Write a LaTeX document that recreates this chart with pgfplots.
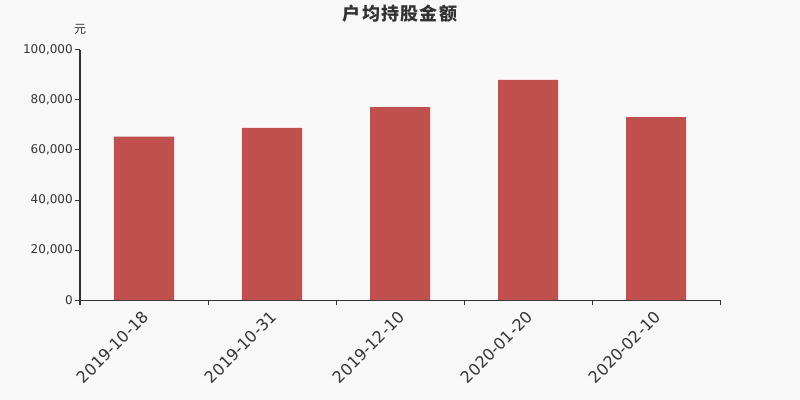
\documentclass[border=0pt]{standalone}
\usepackage{fontspec}
\setmainfont{DejaVu Sans}
\newfontfamily\cjk{Noto Sans CJK SC}
\usepackage{pgfplots}
\pgfplotsset{compat=1.18}
\definecolor{bg}{HTML}{F8F8F8}
\definecolor{barc}{HTML}{C0504D}
\definecolor{txt}{HTML}{333333}
\begin{document}
\begin{tikzpicture}[x=1pt,y=1pt]
\path[use as bounding box,fill=bg] (0,0) rectangle (600,300);
\node[font=\cjk\bfseries\fontsize{13.5}{15}\selectfont,text=txt] at (300,289.5) {户\hspace{1pt}均\hspace{1pt}持\hspace{1pt}股\hspace{1pt}金\hspace{1pt}额};
\node[font=\cjk\fontsize{9}{10}\selectfont,text=txt] at (60,278) {元};
\begin{axis}[
  at={(60pt,75pt)}, anchor=south west,
  width=480pt, height=187.5pt, scale only axis,
  xmin=0, xmax=5, ymin=0, ymax=100000,
  axis x line*=bottom, axis y line*=left,
  axis line style={txt, line width=0.75pt, -},
  ybar, bar width=45pt,
  xtick={0.5,1.5,2.5,3.5,4.5},
  xticklabels={2019-10-18,2019-10-31,2019-12-10,2020-01-20,2020-02-10},
  minor xtick={0,1,2,3,4,5},
  major x tick style={draw=none},
  minor x tick style={txt, line width=0.75pt},
  minor tick length=3.75pt,
  ytick={0,20000,40000,60000,80000,100000},
  y tick style={txt, line width=0.75pt},
  major tick length=3.75pt,
  tick align=outside,
  scaled y ticks=false,
  /pgf/number format/.cd, 1000 sep={,}, fixed, assume math mode=true,
  /pgfplots/.cd,
  yticklabel style={font=\fontsize{9}{10}\selectfont, text=txt, inner sep=1.5pt},
  xticklabel style={font=\fontsize{12}{13}\selectfont, text=txt, rotate=45, anchor=north east, inner sep=1pt, xshift=-3pt, yshift=0pt},
  clip=false,
]
\addplot[fill=barc, draw=none] coordinates {(0.5,65300) (1.5,68800) (2.5,77100) (3.5,88000) (4.5,73100)};
\end{axis}
\end{tikzpicture}
\end{document}
